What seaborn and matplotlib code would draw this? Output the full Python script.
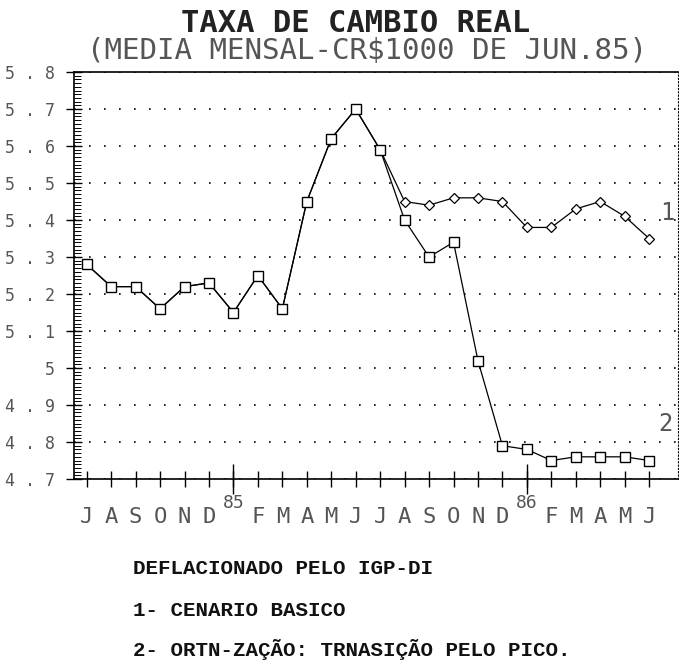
import numpy as np
import pandas as pd
import matplotlib
matplotlib.use("Agg")
import matplotlib.pyplot as plt
import seaborn as sns
from matplotlib.ticker import FixedLocator, MultipleLocator

sns.set_style("ticks")
plt.rcParams['font.family'] = ['DejaVu Sans Mono', 'DejaVu Sans']

# --- data (jul/84 .. jun/86) ---
month_labels = ["J", "A", "S", "O", "N", "D", "", "F", "M", "A", "M", "J",
                "J", "A", "S", "O", "N", "D", "", "F", "M", "A", "M", "J"]
year_pos = [6, 18]
year_labels = ["85", "86"]

# 1- cenario basico
serie_1 = [5.28, 5.22, 5.22, 5.16, 5.22, 5.23, 5.15, 5.25, 5.16, 5.45, 5.62, 5.70,
           5.59, 5.45, 5.44, 5.46, 5.46, 5.45, 5.38, 5.38, 5.43, 5.45, 5.41, 5.35]
# 2- ortn-zacao
serie_2 = [5.28, 5.22, 5.22, 5.16, 5.22, 5.23, 5.15, 5.25, 5.16, 5.45, 5.62, 5.70,
           5.59, 5.40, 5.30, 5.34, 5.02, 4.79, 4.78, 4.75, 4.76, 4.76, 4.76, 4.75]

y_ticks = [4.7, 4.8, 4.9, 5.0, 5.1, 5.2, 5.3, 5.4, 5.5, 5.6, 5.7, 5.8]

notes = ["DEFLACIONADO PELO IGP-DI",
         "1- CENARIO BASICO",
         "2- ORTN-ZAÇÃO: TRNASIÇÃO PELO PICO."]

df = pd.DataFrame({"mes": np.arange(len(serie_1)), "s1": serie_1, "s2": serie_2})

fig = plt.figure(figsize=(6.79, 6.62), dpi=100)
ax = fig.add_axes([0.109, 0.2764, 0.8895, 0.6148])

grey = "#555555"

# scenario 1 only gets its own markers after it splits off
sns.lineplot(data=df, x="mes", y="s1", ax=ax, color="black", lw=0.9,
             marker="D", markersize=5, markerfacecolor="white",
             markeredgecolor="black", markeredgewidth=0.9,
             markevery=list(range(13, len(serie_1))))
sns.lineplot(data=df, x="mes", y="s2", ax=ax, color="black", lw=0.9,
             marker="s", markersize=7, markerfacecolor="white",
             markeredgecolor="black", markeredgewidth=1.0)

ax.set_xlim(-0.52, 24.18)
ax.set_ylim(4.7, 5.8)
ax.set_xlabel("")
ax.set_ylabel("")

# y axis: "5 . 8" style labels, hatched spine
ax.yaxis.set_major_locator(FixedLocator(y_ticks))
ax.set_yticklabels(["5" if abs(v - 5.0) < 1e-9 else f"{v:.1f}".replace(".", " . ")
                    for v in y_ticks], fontsize=12, color=grey)
ax.yaxis.set_minor_locator(MultipleLocator(0.01))
ax.tick_params(axis="y", which="major", direction="inout", length=12, width=1,
               pad=8, left=True, right=False, color="black")
ax.tick_params(axis="y", which="minor", direction="in", length=5, width=0.7,
               left=True, right=False, color="black")

# x axis: months, taller tick at january
ax.xaxis.set_major_locator(FixedLocator(range(len(month_labels))))
ax.set_xticklabels(month_labels, fontsize=16, color=grey)
ax.xaxis.set_minor_locator(FixedLocator(year_pos))
ax.xaxis.remove_overlapping_locs = False
ax.tick_params(axis="x", which="major", direction="inout", length=12, width=1,
               pad=14, bottom=True, top=False, color="black")
ax.tick_params(axis="x", which="minor", direction="inout", length=22, width=1,
               bottom=True, top=False, color="black")
for xp, yl in zip(year_pos, year_labels):
    ax.annotate(yl, xy=(xp, 0), xycoords=("data", "axes fraction"),
                xytext=(0, -17), textcoords="offset points",
                ha="center", va="center", fontsize=13, color=grey)

ax.yaxis.grid(True, linestyle=(0, (1, 8)), color="black", linewidth=1.2)
ax.xaxis.grid(False)

for side in ["left", "bottom", "top"]:
    ax.spines[side].set_visible(True)
    ax.spines[side].set_color("black")
    ax.spines[side].set_linewidth(1.2)
ax.spines["right"].set_visible(True)
ax.spines["right"].set_linestyle((0, (1, 2)))
ax.spines["right"].set_color("black")

# series tags
ax.text(23.73, 5.42, "1", fontsize=17, color=grey, ha="center", va="center")
ax.text(23.65, 4.85, "2", fontsize=17, color=grey, ha="center", va="center")

fig.text(356 / 679, 1 - 23 / 662, "TAXA DE CAMBIO REAL", fontsize=22,
         fontweight="bold", color="#222222", ha="center", va="center")
fig.text(367 / 679, 1 - 51 / 662, "(MEDIA MENSAL-CR\\$1000 DE JUN.85)", fontsize=21,
         color=grey, ha="center", va="center")

for t, yp in zip(notes, [569, 611, 650]):
    fig.text(133 / 679, 1 - yp / 662, t, fontsize=15, family="Liberation Mono",
             fontweight="bold", color="#111111", ha="left", va="center")

fig.savefig("out.png", dpi=100)
